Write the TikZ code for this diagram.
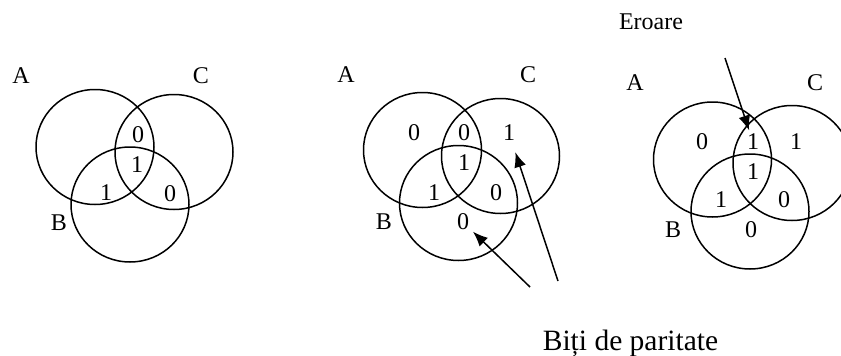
\documentclass[tikz,border=0pt]{standalone}
\usepackage{fontspec}
\setmainfont{Liberation Serif}
\usetikzlibrary{shapes.geometric,arrows.meta}

\begin{document}
\begin{tikzpicture}[x=1pt, y=-1pt, line width=1.5pt, font=\fontsize{24}{28}\selectfont, >={Latex[length=15pt,width=12pt]}]

			% Stiluri pentru cercuri si etichete
			\tikzset{
				cerc/.style={
					ellipse, draw,
					minimum width=118pt,
					minimum height=115pt,
					inner sep=0pt
				},
				litera/.style={
					anchor=center,
					inner sep=1pt
				},
				bit/.style={
					anchor=center,
					inner sep=1pt
				}
			}

			\useasboundingbox (0,0) rectangle (841,356);

			% Diagrama 1: cuvantul initial
			\node[cerc] (A1) at (95,147)    {};
			\node[cerc] (C1) at (174,152)   {};
			\node[cerc] (B1) at (130,204.5) {};
			\node[litera] (la1) at (21,76)  {A};
			\node[litera] (lc1) at (201,76) {C};
			\node[litera] (lb1) at (59,223) {B};
			\node[bit] (ac1)  at (138,135) {0};
			\node[bit] (abc1) at (137,165) {1};
			\node[bit] (ab1)  at (106,193) {1};
			\node[bit] (bc1)  at (170,194) {0};

			% Diagrama 2: bitii de paritate
			\node[cerc] (A2) at (422.5,150) {};
			\node[cerc] (C2) at (500.5,156) {};
			\node[cerc] (B2) at (458.5,203) {};
			\node[litera] (la2) at (346,75)  {A};
			\node[litera] (lc2) at (528,75)  {C};
			\node[litera] (lb2) at (384,222) {B};
			\node[bit] (a2)   at (414,133) {0};
			\node[bit] (ac2)  at (464,133) {0};
			\node[bit] (c2)   at (509,133) {1};
			\node[bit] (abc2) at (464,163) {1};
			\node[bit] (ab2)  at (434,193) {1};
			\node[bit] (bc2)  at (496,193) {0};
			\node[bit] (b2)   at (463,222) {0};

			% Sagetile spre bitii de paritate
			\coordinate (p1) at (530,287);
			\coordinate (p2) at (558,281);
			\draw[->, shorten >=3pt] (p1) -- (b2);
			\draw[->, shorten >=10pt] (p2) -- (c2);
			\node[anchor=base, font=\fontsize{29.5}{34}\selectfont] (par) at (630.5,350) {Biți de paritate};

			% Diagrama 3: eroare
			\node[cerc] (A3) at (712.5,159.5) {};
			\node[cerc] (C3) at (792,163)     {};
			\node[cerc] (B3) at (750,211.5)   {};
			\node[litera] (la3) at (635,83)  {A};
			\node[litera] (lc3) at (815,83)  {C};
			\node[litera] (lb3) at (673,230) {B};
			\node[bit] (a3)   at (702,142) {0};
			\node[bit] (ac3)  at (753,142) {1};
			\node[bit] (c3)   at (796,142) {1};
			\node[bit] (abc3) at (753,172) {1};
			\node[bit] (ab3)  at (721,200) {1};
			\node[bit] (bc3)  at (784,200) {0};
			\node[bit] (b3)   at (751,230) {0};
			\node[litera] (err) at (651,22) {Eroare};
			\coordinate (e1) at (725,58);
			\draw[->, shorten >=2pt] (e1) -- (ac3);

\end{tikzpicture}
\end{document}
